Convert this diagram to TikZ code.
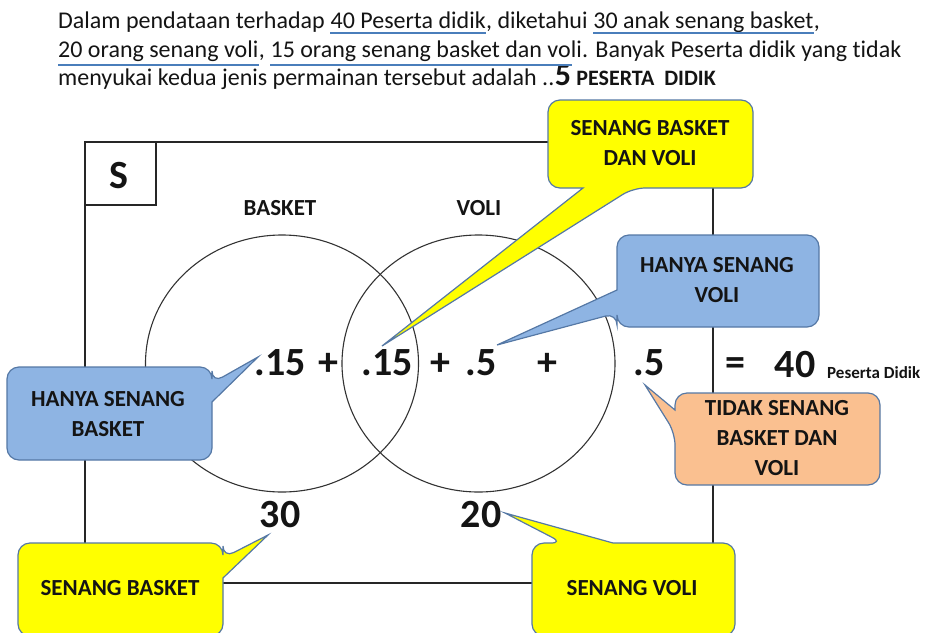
\documentclass[tikz,border=0pt]{standalone}
\usepackage{fontspec}
\setmainfont{Carlito}[Ligatures=NoCommon]
\definecolor{cborder}{RGB}{85,120,165}
\definecolor{ulblue}{RGB}{74,126,187}
\definecolor{cyellow}{RGB}{255,255,0}
\definecolor{cblue}{RGB}{142,180,227}
\definecolor{corange}{RGB}{250,192,144}
\definecolor{ink}{RGB}{20,20,20}
\tikzset{
  txt/.style={inner sep=0pt, text=ink, font=\fontsize{24}{28}\selectfont, anchor=base west},
  bignum/.style={inner sep=0pt, text=ink, font=\bfseries\fontsize{40}{42}\selectfont, anchor=base},
  lbl/.style={inner sep=0pt, text=ink, font=\bfseries\fontsize{23}{30}\selectfont, align=center},
  calloutbox/.style={draw=cborder, line width=1.2pt},
  uline/.style={draw=ulblue, line width=2pt},
  outline/.style={draw=black!85, line width=1.5pt},
  venn/.style={draw=black!80, line width=1.1pt},
}
\begin{document}
\begin{tikzpicture}[x=1pt,y=-1pt]
\useasboundingbox (0,0) rectangle (928,632);

% ---------- question text ----------
\node[txt] (l1a) at (58,28) {Dalam pendataan terhadap\ \mbox{}};
\node[txt] (l1b) at (l1a.base east) {40 Peserta didik};
\node[txt] (l1c) at (l1b.base east) {, diketahui\ \mbox{}};
\node[txt] (l1d) at (l1c.base east) {30 anak senang basket};
\node[txt] (l1e) at (l1d.base east) {,};

\node[txt] (l2a) at (58,57) {20 orang senang voli};
\node[txt] (l2b) at (l2a.base east) {,\ \mbox{}};
\node[txt] (l2c) at (l2b.base east) {15 orang senang basket dan voli};
\node[txt] (l2d) at (l2c.base east) {. Banyak Peserta didik yang tidak};

\node[txt] (l3a) at (58,85) {menyukai kedua jenis permainan tersebut adalah ..};
\node[txt, font=\bfseries\fontsize{32}{34}\selectfont] (l3b) at (l3a.base east) {5};
\node[txt, font=\bfseries\fontsize{22}{26}\selectfont] (l3c) at (l3b.base east) {\ PESERTA\ \ DIDIK};

\draw[uline] ([yshift=-5pt]l1b.base west) -- ([yshift=-5pt]l1b.base east);
\draw[uline] ([yshift=-5pt]l1d.base west) -- ([yshift=-5pt]l1d.base east);
\draw[uline] ([yshift=-8pt]l2a.base west) -- ([yshift=-8pt]l2a.base east);
\draw[uline] ([yshift=-8pt]l2c.base west) -- ([yshift=-8pt,xshift=-10pt]l2c.base east);

% ---------- universe ----------
\draw[outline] (85,142) rectangle (713,583);
\draw[outline] (85,142) rectangle (156,205);
\node[inner sep=0pt, text=ink, font=\bfseries\fontsize{40}{42}\selectfont, anchor=base] (S) at (119,188) {S};

\draw[venn] (282,363.5) ellipse [x radius=136.5, y radius=128.5];
\draw[venn] (478.5,363.5) ellipse [x radius=136.5, y radius=128.5];

\node[lbl, anchor=base] (bk) at (280,215) {BASKET};
\node[lbl, anchor=base] (vl) at (479,215) {VOLI};

% ---------- numbers ----------
\node[bignum] (n1) at (280,375) {.15};
\node[bignum] (p1) at (328,375) {+};
\node[bignum] (n2) at (387,375) {.15};
\node[bignum] (p2) at (440,375) {+};
\node[bignum] (n3) at (481,375) {.5};
\node[bignum] (p3) at (547,375) {+};
\node[bignum] (n4) at (649,375) {.5};
\node[bignum] (eq) at (735,375) {=};
\node[bignum] (tot) at (795,377) {40};
\node[inner sep=0pt, text=ink, font=\bfseries\fontsize{17}{19}\selectfont, anchor=base west] (pd) at (827,378) {Peserta Didik};
\node[bignum] (b30) at (280,527) {30};
\node[bignum] (v20) at (481,527) {20};

% ---------- callouts ----------
\begin{scope}
\clip (0,0) rectangle (928,632);
% senang basket dan voli
\filldraw[calloutbox, fill=cyellow] (548,144) [rounded corners=12pt] -- (548,100) -- (753,100) -- (753,188) -- (633,188) [sharp corners] -- (382,346) -- (583,188) [rounded corners=12pt] -- (548,188) -- cycle;
\node[lbl] (tyt) at (650,143) {SENANG BASKET\\DAN VOLI};
% hanya senang voli
\filldraw[calloutbox, fill=cblue] (718,235) [rounded corners=12pt] -- (819,235) -- (819,327) -- (617,327) -- (617,313) [sharp corners] -- (497,345) -- (617,290) [rounded corners=12pt] -- (617,235) -- cycle;
\node[lbl] (rbt) at (717,280) {HANYA SENANG\\VOLI};
% hanya senang basket
\filldraw[calloutbox, fill=cblue] (7,413) [rounded corners=12pt] -- (7,367) -- (212,367) -- (212,383) [sharp corners] -- (258,357) -- (212,402) [rounded corners=12pt] -- (212,460) -- (7,460) -- cycle;
\node[lbl] (lbt) at (108,414) {HANYA SENANG\\BASKET};
% tidak senang
\filldraw[calloutbox, fill=corange] (777,393) [rounded corners=12pt] -- (880,393) -- (880,485) -- (675,485) -- (675,433) [sharp corners] -- (645,385) -- (675,410) [rounded corners=12pt] -- (675,393) -- cycle;
\node[lbl] (ort) at (777,438) {TIDAK SENANG\\BASKET DAN\\VOLI};
% senang basket
\filldraw[calloutbox, fill=cyellow] (18,590) [rounded corners=12pt] -- (18,543) -- (223,543) -- (223,558) [sharp corners] -- (268,535) -- (223,578) [rounded corners=12pt] -- (223,636) -- (18,636) -- cycle;
\node[lbl] (byt) at (120,588) {SENANG BASKET};
% senang voli
\filldraw[calloutbox, fill=cyellow] (532,590) [rounded corners=12pt] -- (532,543) -- (563,543) [sharp corners] -- (505,513) -- (613,543) [rounded corners=12pt] -- (735,543) -- (735,636) -- (532,636) -- cycle;
\node[lbl] (bvt) at (632,588) {SENANG VOLI};
\end{scope}
\end{tikzpicture}
\end{document}
